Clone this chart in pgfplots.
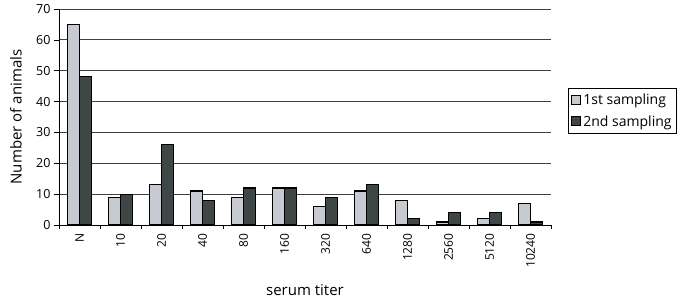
\documentclass[border=0pt]{standalone}
\usepackage{pgfplots}
\pgfplotsset{compat=1.18}
\usepackage{fontspec}
\setmainfont{Open Sans}
\definecolor{lightbar}{RGB}{200,202,210}
\definecolor{darkbar}{RGB}{62,70,70}
\begin{document}
\begin{tikzpicture}
\begin{axis}[name=ax,
  scale only axis, width=492pt, height=216pt,
  ybar=0pt, bar width=11.8pt,
  xmin=-0.5, xmax=11.5, ymin=0, ymax=70,
  ytick={0,10,...,70},
  xtick={0,...,11},
  xticklabels={N,10,20,40,80,160,320,640,1280,2560,5120,10240},
  minor xtick={-0.5,0.5,...,11.5},
  major x tick style={draw=none},
  minor tick length=4pt, major tick length=5pt,
  tick align=outside,
  axis x line*=bottom, axis y line*=left,
  axis line style={black, line width=0.8pt},
  every tick/.style={black, line width=0.6pt},
  ymajorgrids, grid style={black!75, line width=0.8pt},
  x tick label style={rotate=90, anchor=east, font=\fontsize{12}{14}\selectfont},
  y tick label style={font=\fontsize{12.5}{14}\selectfont},
  /pgf/number format/assume math mode=true,
  xlabel={serum titer}, ylabel={Number of animals},
  xlabel style={at={(rel axis cs:0.5,0)}, yshift=-65pt, anchor=center, font=\fontsize{15}{17}\selectfont},
  ylabel style={at={(rel axis cs:0,0.5)}, rotate=0, yshift=43pt, anchor=center, font=\fontsize{15}{17}\selectfont},
  legend style={at={(1.0346,0.634)}, anchor=north west, draw=black, line width=0.6pt, font=\fontsize{14}{16}\selectfont, inner xsep=3pt, inner ysep=4pt, row sep=5pt, cells={anchor=west}},
  legend image code/.code={\draw[#1, line width=0.9pt] (0cm,-0.15cm) rectangle (0.32cm,0.17cm);},
]
\addplot[fill=lightbar, draw=black, line width=1.2pt] coordinates {(0,65) (1,9) (2,13) (3,11) (4,9) (5,12) (6,6) (7,11) (8,8) (9,1) (10,2) (11,7)};
\addplot[fill=darkbar, draw=black, line width=1.2pt] coordinates {(0,48) (1,10) (2,26) (3,8) (4,12) (5,12) (6,9) (7,13) (8,2) (9,4) (10,4) (11,1)};
\legend{1st sampling, 2nd sampling}
\end{axis}
\pgfresetboundingbox
\path ([shift={(-59pt,-77pt)}]ax.south west) rectangle ([shift={(133pt,9pt)}]ax.north east);
\end{tikzpicture}
\end{document}
